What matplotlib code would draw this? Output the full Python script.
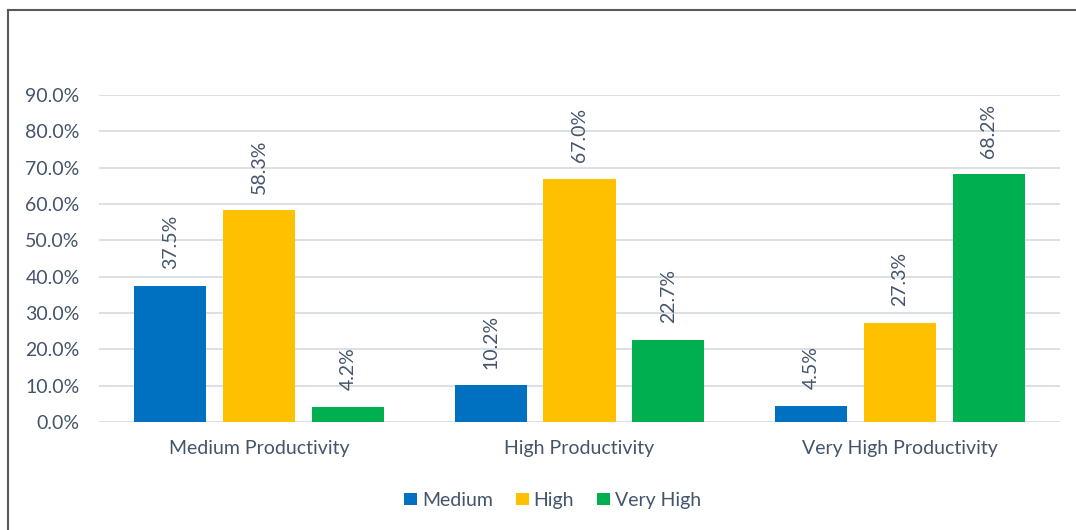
import numpy as np
import matplotlib.pyplot as plt
from matplotlib.lines import Line2D
from matplotlib.ticker import PercentFormatter

categories = ["Medium Productivity", "High Productivity", "Very High Productivity"]
series_names = ["Medium", "High", "Very High"]
medium = [37.5, 10.2, 4.5]
high = [58.3, 67.0, 27.3]
very_high = [4.2, 22.7, 68.2]
colors = ["#0070C0", "#FFC000", "#00B050"]
yticks = [0, 10, 20, 30, 40, 50, 60, 70, 80, 90]

text_color = "#44546A"
plt.rcParams["font.family"] = ["Lato", "DejaVu Sans"]

fig = plt.figure(figsize=(10.76, 5.30), dpi=100)
ax = fig.add_axes([99 / 1076, 1 - 422 / 530, 961 / 1076, (422 - 95) / 530 * 1.0])

x = np.arange(len(categories))
step = 0.277
width = 0.225
for i, (name, vals) in enumerate(zip(series_names, [medium, high, very_high])):
    pos = x + (i - 1) * step
    bars = ax.bar(pos, vals, width, color=colors[i], label=name, zorder=3)
    for b, v in zip(bars, vals):
        ax.text(b.get_x() + b.get_width() / 2, v + 4.5, f"{v:.1f}%",
                rotation=90, ha="center", va="bottom", fontsize=14,
                color=text_color)

ax.set_xlim(-0.5, 2.5)
ax.set_ylim(0, 90)
ax.set_yticks(yticks)
ax.yaxis.set_major_formatter(PercentFormatter(decimals=1))
ax.set_xticks(x)
ax.set_xticklabels(categories)
ax.tick_params(axis="both", length=0, labelsize=14, labelcolor=text_color)
ax.tick_params(axis="x", pad=13)
ax.tick_params(axis="y", pad=14)
ax.grid(axis="y", color="#D9DDE3", linewidth=1.3, zorder=0)
ax.set_axisbelow(True)
for s in ax.spines.values():
    s.set_visible(False)

ax.legend(loc="upper center", bbox_to_anchor=(0.472, -0.16), ncol=3, frameon=False,
          fontsize=14, labelcolor=text_color, handlelength=0.65, handleheight=0.65,
          handletextpad=0.25, columnspacing=1.2)

# outer frame (top and left only, as in the original)
fig.add_artist(Line2D([8 / 1076, 8 / 1076], [0, 1 - 10 / 530], color="#595959", lw=1.5))
fig.add_artist(Line2D([8 / 1076, 1], [1 - 10 / 530, 1 - 10 / 530], color="#595959", lw=1.5))

fig.savefig("out.png", dpi=100)
